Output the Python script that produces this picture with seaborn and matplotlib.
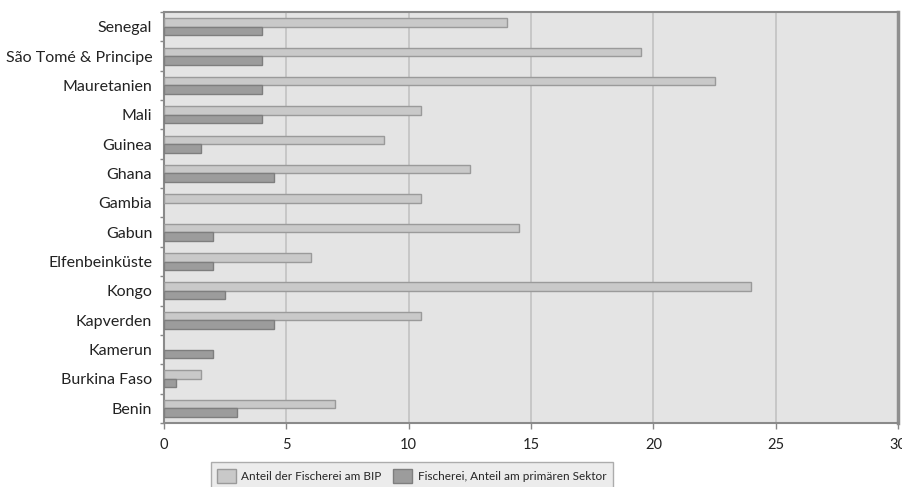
import numpy as np
import pandas as pd
import seaborn as sns
import matplotlib.pyplot as plt
from matplotlib.patches import Patch
from matplotlib.ticker import MultipleLocator, FixedLocator

countries = ["Senegal", "São Tomé & Principe", "Mauretanien", "Mali", "Guinea",
             "Ghana", "Gambia", "Gabun", "Elfenbeinküste", "Kongo",
             "Kapverden", "Kamerun", "Burkina Faso", "Benin"]
anteil_bip = [14, 19.5, 22.5, 10.5, 9, 12.5, 10.5, 14.5, 6, 24, 10.5, np.nan, 1.5, 7]
anteil_primaer = [4, 4, 4, 4, 1.5, 4.5, np.nan, 2, 2, 2.5, 4.5, 2, 0.5, 3]
series_names = ["Anteil der Fischerei am BIP", "Fischerei, Anteil am primären Sektor"]

df = pd.DataFrame({
    "Land": countries * 2,
    "Wert": anteil_bip + anteil_primaer,
    "Reihe": [series_names[0]] * len(countries) + [series_names[1]] * len(countries),
})

sns.set_theme(style="white")
plt.rcParams["font.family"] = ["Lato", "DejaVu Sans"]

fills = ["#c9c9c9", "#9c9c9c"]
edges = ["#9a9a9a", "#7e7e7e"]

fig = plt.figure(figsize=(9.03, 4.87), dpi=100)
ax = fig.add_axes([0.1816, 0.1314, 0.8129, 0.844])
ax.set_facecolor("#e4e4e4")

sns.barplot(data=df, y="Land", x="Wert", hue="Reihe", order=countries,
            hue_order=series_names, palette=fills, width=0.58,
            orient="h", ax=ax, legend=False, zorder=3)

for bars, ec in zip(ax.containers, edges):
    for b in bars:
        b.set_edgecolor(ec)
        b.set_linewidth(1.0)

ax.set_xlim(0, 30)
ax.set_ylim(len(countries) - 0.5, -0.5)
ax.xaxis.set_major_locator(MultipleLocator(5))
ax.set_xticklabels([str(int(v)) for v in ax.get_xticks()])
ax.grid(axis="x", color="#c2c2c2", linewidth=1.2, zorder=0)
ax.set_axisbelow(True)
ax.set_xlabel("")
ax.set_ylabel("")

# tick marks sit between the categories
ax.yaxis.set_minor_locator(FixedLocator(np.arange(-0.5, len(countries), 1)))
ax.tick_params(axis="y", which="major", length=0, labelsize=11.5, colors="#222222", pad=8.5)
ax.tick_params(axis="y", which="minor", length=3, width=1, color="#888888", left=True)
ax.tick_params(axis="x", which="major", length=4, width=1, color="#888888",
               labelsize=10.5, labelcolor="#222222", bottom=True, pad=7)

for side in ["top", "left", "bottom"]:
    ax.spines[side].set_color("#8a8a8a")
    ax.spines[side].set_linewidth(1.5)
ax.spines["right"].set_color("#8f8f8f")
ax.spines["right"].set_linewidth(2.5)

handles = [Patch(facecolor=f, edgecolor=e, linewidth=1.0) for f, e in zip(fills, edges)]
leg = fig.legend(handles, series_names, loc="lower center", ncol=2,
                 bbox_to_anchor=(0.456, -0.018), frameon=True, fontsize=8.5,
                 handlelength=1.6, handleheight=1.5, columnspacing=1.0,
                 handletextpad=0.45, borderpad=0.55, borderaxespad=0.5,
                 fancybox=False)
leg.get_frame().set_facecolor("#e8e8e8")
leg.get_frame().set_edgecolor("#9a9a9a")
leg.get_frame().set_linewidth(1.0)

fig.savefig("out.png", dpi=100, facecolor="white")
